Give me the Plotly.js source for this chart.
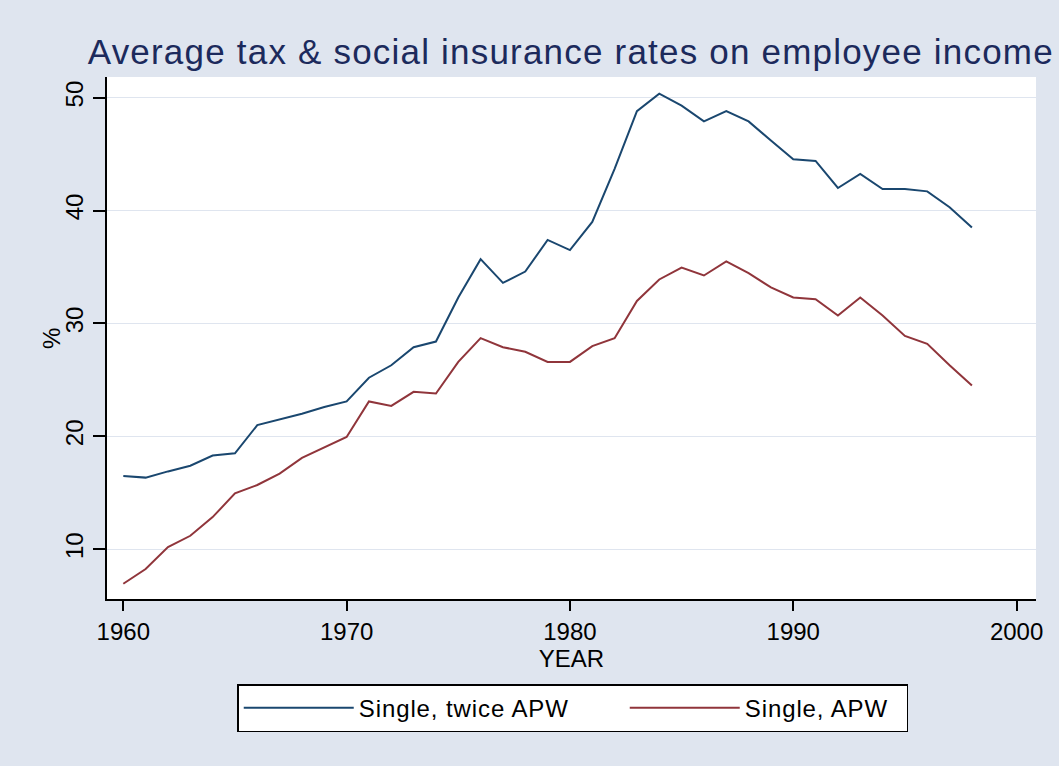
<!DOCTYPE html>
<html>
<head>
<meta charset="utf-8">
<script src="https://cdn.plot.ly/plotly-3.0.1.min.js"></script>
<style>
html,body{margin:0;padding:0;background:#dfe5ef;}
#chart{width:1059px;height:766px;}
#chart .gtitle{letter-spacing:1.2px;}
#chart .legendtext{letter-spacing:0.9px;}
</style>
</head>
<body>
<div id="chart"></div>
<script>
const years = [1960,1961,1962,1963,1964,1965,1966,1967,1968,1969,1970,1971,1972,1973,1974,1975,1976,1977,1978,1979,1980,1981,1982,1983,1984,1985,1986,1987,1988,1989,1990,1991,1992,1993,1994,1995,1996,1997,1998];
const singleTwiceAPW = [16.5,16.35,16.9,17.4,18.3,18.5,21.0,21.5,22.0,22.6,23.1,25.2,26.3,27.9,28.4,32.3,35.7,33.6,34.6,37.4,36.5,39.0,43.7,48.8,50.35,49.3,47.9,48.8,47.9,46.2,44.55,44.4,42.0,43.25,41.9,41.9,41.7,40.3,38.5];
const singleAPW = [6.95,8.25,10.2,11.2,12.85,14.95,15.7,16.7,18.1,19.0,19.95,23.1,22.7,23.95,23.8,26.6,28.7,27.9,27.5,26.6,26.6,28.0,28.7,32.0,33.9,34.95,34.25,35.5,34.45,33.2,32.3,32.15,30.7,32.3,30.7,28.9,28.2,26.3,24.5];
const seriesNames = ["Single, twice APW","Single, APW"];
const titleText = "Average tax & social insurance rates on employee income";
const yTitle = "%";
const xTicks = [1960,1970,1980,1990,2000];
const yTicks = [10,20,30,40,50];

const traces = [
  {x: years, y: singleTwiceAPW, name: seriesNames[0], type: 'scatter', mode: 'lines',
   line: {color: '#1a476f', width: 2}, legendwidth: 261},
  {x: years, y: singleAPW, name: seriesNames[1], type: 'scatter', mode: 'lines',
   line: {color: '#90353b', width: 2}, legendwidth: 157}
];

const layout = {
  width: 1059, height: 766,
  paper_bgcolor: '#dfe5ef',
  plot_bgcolor: '#ffffff',
  margin: {l: 107, r: 23, t: 77, b: 167, autoexpand: false},
  font: {family: 'Liberation Sans, Arial, sans-serif', color: '#000000'},
  title: {text: titleText, font: {size: 35, color: '#1c2a5c'}, x: 0.539, xanchor: 'center', y: 0.933, yanchor: 'middle'},
  xaxis: {
    range: [1959.27, 2000.87], tickvals: xTicks, ticktext: xTicks.map(String),
    showgrid: false, zeroline: false,
    showline: true, linecolor: '#000000', linewidth: 2,
    ticks: 'outside', ticklen: 10, tickwidth: 2, tickcolor: '#000000',
    tickfont: {size: 24},
    title: {text: 'YEAR', font: {size: 24}, standoff: 2}
  },
  yaxis: {
    range: [5.6, 51.83], tickvals: yTicks, ticktext: yTicks.map(String),
    showgrid: true, gridcolor: '#dfe5ef', gridwidth: 1.5, zeroline: false,
    showline: true, linecolor: '#000000', linewidth: 2,
    ticks: 'outside', ticklen: 12, tickwidth: 2, tickcolor: '#000000',
    tickangle: -90, tickfont: {size: 24}, ticklabelstandoff: 0
  },
  annotations: [
    {text: yTitle, xref: 'paper', yref: 'paper', x: -0.0603, y: 0.5,
     xanchor: 'center', yanchor: 'middle', textangle: -90, showarrow: false,
     font: {size: 24, color: '#000000'}}
  ],
  showlegend: true,
  legend: {
    orientation: 'h', x: 0.1402, xanchor: 'left', y: -0.163, yanchor: 'top',
    bgcolor: '#ffffff', bordercolor: '#000000', borderwidth: 1.5,
    font: {size: 24}, itemwidth: 110, tracegroupgap: 0
  }
};

Plotly.newPlot('chart', traces, layout, {displayModeBar: false, staticPlot: true});
</script>
</body>
</html>
